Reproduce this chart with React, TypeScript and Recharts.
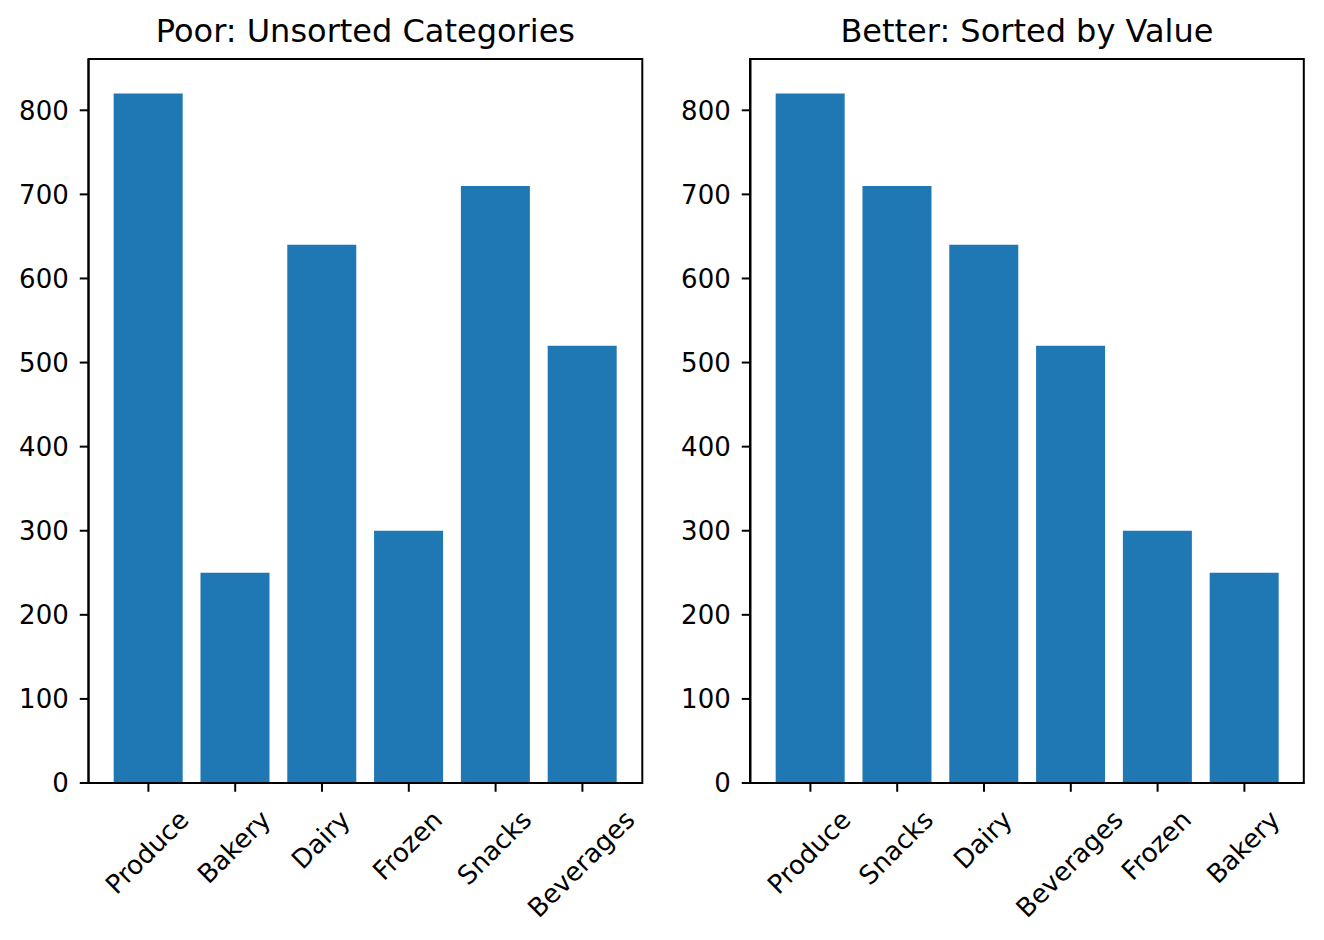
import React from "react";
import { BarChart, Bar, XAxis, YAxis } from "recharts";

// data
const categories = ["Produce", "Bakery", "Dairy", "Frozen", "Snacks", "Beverages"];
const sales = [820, 250, 640, 300, 710, 520];

const sortedCategories = ["Produce", "Snacks", "Dairy", "Beverages", "Frozen", "Bakery"];
const sortedSales = [820, 710, 640, 520, 300, 250];

const yTicks = [0, 100, 200, 300, 400, 500, 600, 700, 800];
const Y_MAX = 861;

const FONT = "DejaVu Sans";
const TICK_FONT = 26;
const TITLE_FONT = 32;
const BAR_COLOR = "#1f77b4";

const PANEL_W = 662;
const PANEL_H = 940;
const RIGHT_OFFSET = 661.5;
const PLOT_LEFT = 88.5;
const PLOT_RIGHT = 642.3;
const PLOT_TOP = 59;
const PLOT_BOTTOM = 783;
const PLOT_W = PLOT_RIGHT - PLOT_LEFT;
// matplotlib default x margins: 6 bars of width 0.8 -> xlim [-0.69, 5.69]
const UNIT = PLOT_W / 6.38;
const X_PAD = 0.19 * UNIT;

let ctx: CanvasRenderingContext2D | null = null;
function textWidth(s: string) {
  if (!ctx) ctx = document.createElement("canvas").getContext("2d");
  if (!ctx) return s.length * TICK_FONT * 0.6;
  ctx.font = `${TICK_FONT}px "${FONT}"`;
  return ctx.measureText(s).width;
}

// rotated 45deg label, bbox centred under the tick, top aligned (like matplotlib)
const RotatedTick = (props: any) => {
  const { x, y, payload } = props;
  const label = String(payload.value);
  const w = textWidth(label);
  const h = 0.968 * TICK_FONT;
  const d = 0.208 * TICK_FONT;
  const k = Math.SQRT1_2;
  const top = y + 7;
  const ox = x - (k * (w - h + 2 * d)) / 2;
  const oy = top + k * (w + h - d);
  return (
    <text
      x={ox}
      y={oy}
      transform={`rotate(-45 ${ox} ${oy})`}
      textAnchor="start"
      fontFamily={FONT}
      fontSize={TICK_FONT}
      fill="#000"
    >
      {label}
    </text>
  );
};

function Panel({ cats, vals, left }: { cats: string[]; vals: number[]; left: number }) {
  const data = cats.map((name, i) => ({ name, value: vals[i] }));
  const axisLine = { stroke: "#000", strokeWidth: 2 };
  return (
    <div style={{ position: "absolute", left, top: 0 }}>
      <BarChart
        width={PANEL_W}
        height={PANEL_H}
        data={data}
        margin={{ top: PLOT_TOP, right: PANEL_W - PLOT_RIGHT, left: 0, bottom: 0 }}
        barCategoryGap="10%"
      >
        <XAxis
          dataKey="name"
          type="category"
          height={PANEL_H - PLOT_BOTTOM}
          padding={{ left: X_PAD, right: X_PAD }}
          axisLine={axisLine}
          tickLine={{ stroke: "#000", strokeWidth: 2 }}
          tickSize={8.75}
          tickMargin={8.75}
          interval={0}
          tick={<RotatedTick />}
        />
        <YAxis
          type="number"
          domain={[0, Y_MAX]}
          ticks={yTicks}
          width={PLOT_LEFT}
          axisLine={axisLine}
          tickLine={{ stroke: "#000", strokeWidth: 2 }}
          tickSize={8.75}
          tickMargin={11}
          interval={0}
          tick={{ fill: "#000", fontSize: TICK_FONT, fontFamily: FONT }}
        />
        <Bar dataKey="value" fill={BAR_COLOR} isAnimationActive={false} />
      </BarChart>
    </div>
  );
}

export default function App() {
  const cx = PLOT_LEFT + PLOT_W / 2;
  const frameH = PLOT_BOTTOM - PLOT_TOP;
  return (
    <div style={{ position: "absolute", left: 0, top: 0, width: 1324, height: 940, background: "#fff" }}>
      <Panel cats={categories} vals={sales} left={0} />
      <Panel cats={sortedCategories} vals={sortedSales} left={RIGHT_OFFSET} />
      <svg
        width={1324}
        height={940}
        style={{ position: "absolute", left: 0, top: 0, pointerEvents: "none" }}
      >
        {/* axes frames (matplotlib spines) */}
        <rect x={PLOT_LEFT} y={PLOT_TOP} width={PLOT_W} height={frameH} fill="none" stroke="#000" strokeWidth={2} />
        <rect x={PLOT_LEFT + RIGHT_OFFSET} y={PLOT_TOP} width={PLOT_W} height={frameH} fill="none" stroke="#000" strokeWidth={2} />
        <text x={cx} y={42} textAnchor="middle" fontFamily={FONT} fontSize={TITLE_FONT} fill="#000">
          Poor: Unsorted Categories
        </text>
        <text x={cx + RIGHT_OFFSET} y={42} textAnchor="middle" fontFamily={FONT} fontSize={TITLE_FONT} fill="#000">
          Better: Sorted by Value
        </text>
      </svg>
    </div>
  );
}
